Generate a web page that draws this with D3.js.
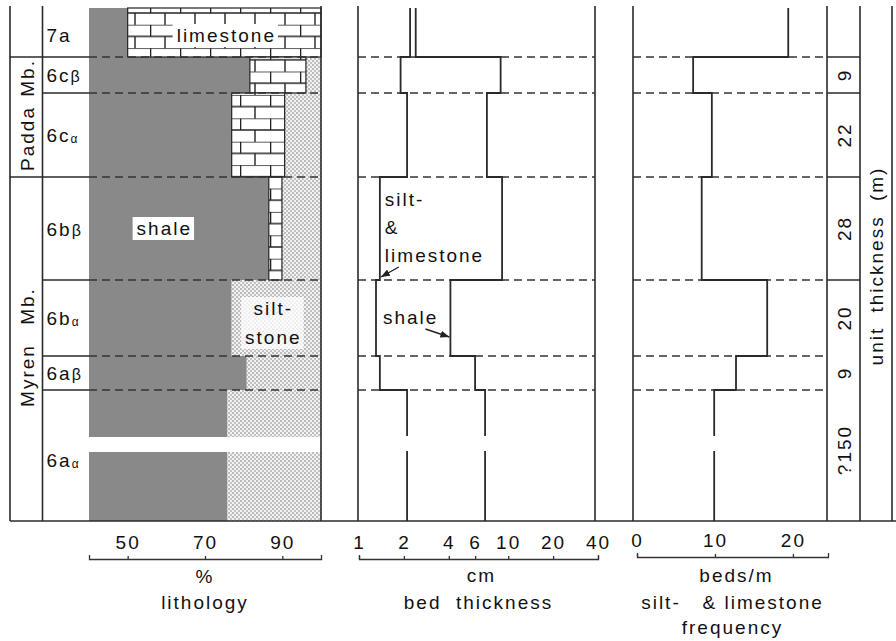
<!DOCTYPE html>
<html lang="en">
<head>
<meta charset="UTF-8">
<title>Lithology, bed thickness and frequency</title>
<style>
    body { margin: 0; background: #fff; }
    svg { display: block; font-family: 'Liberation Sans', Arial, sans-serif; }
    text { font-size: 19px; letter-spacing: 2px; fill: #111; white-space: pre; }
    .frame { stroke: #2a2a2a; stroke-width: 1.6; fill: none; }
    .dash { stroke: #333; stroke-width: 1.5; stroke-dasharray: 8 5; fill: none; }
    .step { stroke: #2a2a2a; stroke-width: 1.8; fill: none; }
    .axis path, .axis line { stroke: #333; stroke-width: 1.3; }
</style>
</head>
<body>
<div id="chart"></div>
<script src="https://d3js.org/d3.v7.min.js"></script>
<script>
// units from top to bottom
const units = ['7a', '6cβ', '6cα', '6bβ', '6bα', '6aβ', '6aα'];
const unitSpan = [49, 36, 84, 103, 76, 34, 131];          // schematic drawn height of each unit
const shalePct = [50, 81.6, 76.9, 86.5, 76.9, 80.8, 75.8];  // shale, %
const shaleLimePct = [100, 96.1, 90.6, 89.9, 76.9, 80.8, 75.8]; // shale + limestone, %
const siltLimeThick = [2.2, 1.9, 2.1, 1.38, 1.3, 1.38, 2.1]; // cm
const shaleThick = [2.4, 8.9, 7.2, 9.1, 4.1, 6.0, 7.0];      // cm
const frequency = [19.4, 7.2, 9.6, 8.3, 16.7, 12.7, 9.9];    // beds/m
const unitThickness = ['', '9', '22', '28', '20', '9', '?150']; // m
const memberNames = ['Padda Mb.', 'Myren Mb.'];
const memberFirst = [1, 3];
const memberLast = [2, 6];
const pctTicks = [50, 70, 90];
const cmTicks = [1, 2, 4, 6, 10, 20, 40];
const freqTicks = [0, 10, 20];
const breakSpan = [429, 444]; // section break inside 6aα (schematic units)

const W = 896, H = 641;
const yStart = 8, yEnd = 521;

const tops = [0].concat(Array.from(d3.cumsum(unitSpan))).slice(0, units.length);
const total = d3.sum(unitSpan);
const y = d3.scaleLinear().domain([0, total]).range([yStart, yEnd]);
const yTop = i => y(tops[i]);
const yBot = i => y(tops[i] + unitSpan[i]);

const xPct = d3.scaleLinear().domain([40, 100]).range([89, 321]);
const xCm = d3.scaleLog().domain([1, 40]).range([359, 598]);
const xFreq = d3.scaleLinear().domain([0, 24.5]).range([637, 828]);

// column edges
const colMember = 10, colUnit = 42.5;
const bedLeft = 358, bedRight = 595;
const freqLeft = 633, freqRight = 827;
const thickRight = 860, farRight = 892;

const svg = d3.select('#chart').append('svg')
    .attr('width', W).attr('height', H);

// patterns
const defs = svg.append('defs');
const brick = defs.append('pattern').attr('id', 'brick')
    .attr('patternUnits', 'userSpaceOnUse')
    .attr('x', 0).attr('y', 1.3).attr('width', 30).attr('height', 23.4);
brick.append('rect').attr('width', 30).attr('height', 23.4).attr('fill', '#fff');
brick.append('path')
    .attr('d', 'M0,0H30M0,11.7H30M0.6,0V11.7M15,11.7V23.4')
    .attr('stroke', '#222').attr('stroke-width', 1.4);

const stip = defs.append('pattern').attr('id', 'stipple')
    .attr('patternUnits', 'userSpaceOnUse')
    .attr('width', 4).attr('height', 4);
stip.append('rect').attr('width', 4).attr('height', 4).attr('fill', '#f2f2f2');
stip.append('circle').attr('cx', 1).attr('cy', 1).attr('r', 0.75).attr('fill', '#6a6a6a');
stip.append('circle').attr('cx', 3).attr('cy', 3).attr('r', 0.75).attr('fill', '#7a7a7a');

defs.append('marker').attr('id', 'arrow')
    .attr('markerUnits', 'userSpaceOnUse')
    .attr('markerWidth', 9).attr('markerHeight', 7)
    .attr('refX', 9).attr('refY', 3.5).attr('orient', 'auto')
    .append('path').attr('d', 'M0,0L9,3.5L0,7z').attr('fill', '#222');

// lithology column
const lith = svg.append('g');
lith.selectAll('.shale').data(units).join('rect')
    .attr('x', xPct(40)).attr('y', (d, i) => yTop(i))
    .attr('width', (d, i) => xPct(shalePct[i]) - xPct(40))
    .attr('height', (d, i) => yBot(i) - yTop(i))
    .attr('fill', '#898989');
lith.selectAll('.silt').data(units).join('rect')
    .attr('x', (d, i) => xPct(shaleLimePct[i])).attr('y', (d, i) => yTop(i))
    .attr('width', (d, i) => xPct(100) - xPct(shaleLimePct[i]))
    .attr('height', (d, i) => yBot(i) - yTop(i))
    .attr('fill', 'url(#stipple)');
const limeIdx = d3.range(units.length).filter(i => shaleLimePct[i] > shalePct[i]);
lith.selectAll('.lime').data(limeIdx).join('rect')
    .attr('x', i => xPct(shalePct[i]))
    .attr('y', i => yTop(i))
    .attr('width', i => xPct(shaleLimePct[i]) - xPct(shalePct[i]))
    .attr('height', i => yBot(i) - yTop(i))
    .attr('fill', 'url(#brick)').attr('stroke', '#222').attr('stroke-width', 1.2);

// section break
lith.append('rect')
    .attr('x', xPct(40) - 1).attr('y', y(breakSpan[0]))
    .attr('width', xPct(100) - xPct(40) + 1).attr('height', y(breakSpan[1]) - y(breakSpan[0]))
    .attr('fill', '#fff');

// boundaries
const inner = d3.range(1, units.length);
[[xPct(40), xPct(100)], [bedLeft, bedRight], [freqLeft, freqRight]].forEach(([a, b]) => {
    svg.append('g').selectAll('line').data(inner).join('line')
        .attr('class', 'dash')
        .attr('x1', a).attr('x2', b)
        .attr('y1', i => yTop(i)).attr('y2', i => yTop(i));
});

// frame lines
const frame = svg.append('g').attr('class', 'frame');
[colMember, colUnit, xPct(100), bedLeft, bedRight, freqLeft, freqRight, thickRight, farRight].forEach(x => {
    frame.append('line').attr('x1', x).attr('x2', x).attr('y1', yStart - 2).attr('y2', yEnd);
});
frame.append('line').attr('x1', colMember).attr('x2', W).attr('y1', yEnd).attr('y2', yEnd);
inner.forEach(i => {
    const isMember = memberFirst.includes(i);
    frame.append('line').attr('x1', isMember ? colMember : colUnit).attr('x2', xPct(40))
        .attr('y1', yTop(i)).attr('y2', yTop(i));
});
[1, 2, 3, 4].forEach(i => {
    frame.append('line').attr('x1', freqRight).attr('x2', thickRight)
        .attr('y1', yTop(i)).attr('y2', yTop(i));
});

// step profiles
function stepPoints(vals, xs) {
    const pts = [];
    vals.forEach((v, i) => {
        pts.push([xs(v), yTop(i)]);
        if (i === vals.length - 1) {
            pts.push([xs(v), y(breakSpan[0]) - 1], null, [xs(v), y(breakSpan[1]) - 1]);
        }
        pts.push([xs(v), yBot(i)]);
    });
    return pts;
}
const line = d3.line().defined(d => d !== null);
svg.append('path').attr('class', 'step').attr('d', line(stepPoints(siltLimeThick, xCm)));
svg.append('path').attr('class', 'step').attr('d', line(stepPoints(shaleThick, xCm)));
svg.append('path').attr('class', 'step').attr('d', line(stepPoints(frequency, xFreq)));

// unit labels
const unitLab = svg.append('g').selectAll('text').data(units).join('text')
    .attr('x', colUnit + 4)
    .attr('y', (d, i) => i === 0 ? yTop(i) + 34 : (yTop(i) + yBot(i)) / 2 + 7);
unitLab.each(function(d, i) {
    const t = d3.select(this);
    if (i === units.length - 1) t.attr('y', yBot(i) - 54);
    t.append('tspan').text(d.slice(0, 2));
    const g = d.slice(2);
    if (g) t.append('tspan').text(g)
        .style('font-size', g === 'α' ? '12px' : '16px')
        .attr('dy', g === 'α' ? 1 : 0);
});

// member labels
memberNames.forEach((m, k) => {
    const mid = (yTop(memberFirst[k]) + yBot(memberLast[k])) / 2;
    svg.append('text')
        .attr('transform', `translate(${(colMember + colUnit) / 2 + 1},${mid - 2}) rotate(-90)`)
        .attr('text-anchor', 'middle').attr('dominant-baseline', 'central')
        .style('word-spacing', k === 1 ? '12px' : '2px')
        .text(m);
});

// lithology labels on white boxes
function boxedLabel(lines, x, y0, lh, fill) {
    const g = svg.append('g');
    const bg = g.append('rect').attr('fill', fill);
    const t = g.append('text').attr('text-anchor', 'middle');
    lines.forEach((s, k) => t.append('tspan').attr('x', x).attr('y', y0 + k * lh).text(s));
    const bb = t.node().getBBox();
    bg.attr('x', bb.x - 4).attr('y', bb.y - 1).attr('width', bb.width + 6).attr('height', bb.height + 2);
}
boxedLabel(['limestone'], (xPct(shalePct[0]) + xPct(100)) / 2 + 2, yTop(0) + 34, 0, '#fff');
boxedLabel(['shale'], xPct(60) - 2, yBot(3) - 45, 0, '#fff');
boxedLabel(['silt-', 'stone'], (xPct(shalePct[4]) + xPct(100)) / 2 - 3, yTop(4) + 35, 29, 'rgba(255,255,255,0.75)');

// bed thickness labels
const sl = svg.append('text');
['silt-', '&', 'limestone'].forEach((s, k) =>
    sl.append('tspan').attr('x', xCm(siltLimeThick[3]) + 5).attr('y', yTop(3) + 29 + k * 28).text(s));
svg.append('line').attr('x1', xCm(siltLimeThick[3]) + 19).attr('y1', yBot(3) - 13)
    .attr('x2', xCm(siltLimeThick[3]) + 1).attr('y2', yBot(3) - 3)
    .attr('stroke', '#222').attr('stroke-width', 1.4).attr('marker-end', 'url(#arrow)');
svg.append('text').attr('x', xCm(siltLimeThick[4]) + 7).attr('y', yTop(4) + 44).text('shale');
svg.append('line').attr('x1', xCm(shaleThick[4]) - 25).attr('y1', yBot(4) - 27)
    .attr('x2', xCm(shaleThick[4]) - 1).attr('y2', yBot(4) - 19)
    .attr('stroke', '#222').attr('stroke-width', 1.4).attr('marker-end', 'url(#arrow)');

// unit thickness
svg.append('g').selectAll('text').data(unitThickness).join('text')
    .attr('transform', (d, i) => `translate(${(freqRight + thickRight) / 2 + 1},${i === 6 ? yTop(i) + 60 : (yTop(i) + yBot(i)) / 2}) rotate(-90)`)
    .attr('text-anchor', 'middle').attr('dominant-baseline', 'central')
    .text(d => d);
svg.append('text')
    .attr('transform', `translate(${(thickRight + farRight) / 2},${y(258)}) rotate(-90)`)
    .attr('text-anchor', 'middle').attr('dominant-baseline', 'central')
    .style('word-spacing', '7px')
    .text('unit thickness (m)');

// axes
const axisY = 559;
function styleAxis(g) {
    g.attr('class', 'axis').attr('font-size', null).attr('font-family', null);
}
svg.append('g').attr('transform', `translate(0,${axisY})`)
    .call(d3.axisTop(xPct).tickValues(pctTicks).tickSize(3).tickSizeOuter(4).tickPadding(7))
    .call(styleAxis);
svg.append('g').attr('transform', `translate(0,${axisY})`)
    .call(d3.axisTop(xCm).tickValues(cmTicks).tickFormat(d3.format('d')).tickSize(3).tickSizeOuter(4).tickPadding(7))
    .call(styleAxis);
svg.append('g').attr('transform', `translate(0,${axisY - 2})`)
    .call(d3.axisTop(xFreq).tickValues(freqTicks).tickSize(3).tickSizeOuter(4).tickPadding(7))
    .call(styleAxis);

// axis titles
const titles = [
    [d3.mean(xPct.range()), 583, '%'],
    [d3.mean(xPct.range()), 609, 'lithology'],
    [d3.mean(xCm.range()) + 3, 582, 'cm'],
    [d3.mean(xCm.range()), 609, 'bed  thickness'],
    [d3.mean(xFreq.range()) + 4, 582, 'beds/m'],
    [d3.mean(xFreq.range()), 609, 'silt-   & limestone'],
    [d3.mean(xFreq.range()), 634, 'frequency']
];
svg.append('g').selectAll('text').data(titles).join('text')
    .attr('x', d => d[0]).attr('y', d => d[1])
    .attr('text-anchor', 'middle')
    .text(d => d[2]);
</script>
</body>
</html>
